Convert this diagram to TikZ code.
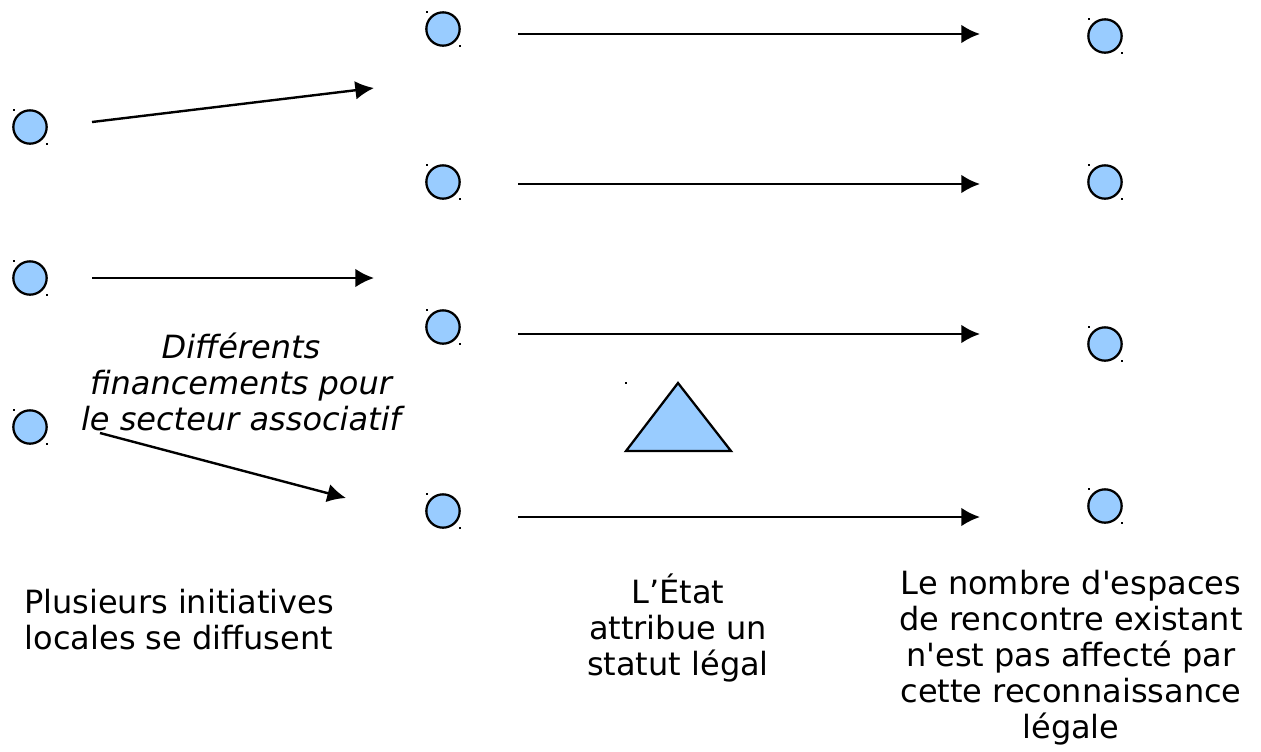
\documentclass[tikz,border=0pt]{standalone}
\usepackage{fontspec}
\setmainfont{DejaVu Sans}
\usetikzlibrary{arrows.meta}
\definecolor{fillblue}{HTML}{99CCFF}
\tikzset{
  dot/.style={circle,draw=black,line width=1.7pt,fill=fillblue,minimum size=25pt,inner sep=0pt},
  handle/.style={fill=black,minimum size=2pt,inner sep=0pt,rectangle},
  arr/.style={line width=1.8pt,-{Latex[length=14pt,width=14pt]}},
  lbl/.style={align=center,font=\fontsize{24}{27}\selectfont,inner sep=0pt}
}
\begin{document}
\begin{tikzpicture}[x=0.75pt,y=-0.75pt]
\useasboundingbox (0,0) rectangle (1261,751);
% circles
\foreach \n/\x/\y in {a1/30/127,a2/30/278,a3/30/427,
  b1/443/29,b2/443/182,b3/443/327,b4/443/511,
  c1/1105/36,c2/1105/182,c3/1105/344,c4/1105/506}{
  \node[dot] (\n) at (\x,\y) {};
  \node[handle] (\n tl) at (\x-16,\y-17) {};
  \node[handle] (\n br) at (\x+17,\y+17) {};
}
% triangle
\draw[line width=1.7pt,fill=fillblue,line join=miter] (678,383) -- (731,451) -- (626,451) -- cycle;
\node[handle] (tri) at (626,383) {};
% arrow endpoints
\coordinate (l1s) at (92,122); \coordinate (l1e) at (374,88);
\coordinate (l2s) at (92,278); \coordinate (l2e) at (374,278);
\coordinate (l3s) at (100,433); \coordinate (l3e) at (346,498);
\foreach \i/\y in {1/34,2/184,3/334,4/517}{
  \coordinate (h\i s) at (518,\y); \coordinate (h\i e) at (980,\y);
  \draw[arr] (h\i s) -- (h\i e);
}
\draw[arr] (l1s) -- (l1e);
\draw[arr] (l2s) -- (l2e);
\draw[arr] (l3s) -- (l3e);
% texts
\node[lbl,font=\fontsize{24}{27}\selectfont\itshape] (fin) at (241,382) {Différents\\financements pour\\le secteur associatif};
\node[lbl] (t1) at (179,620) {Plusieurs initiatives\\locales se diffusent};
\node[lbl] (t2) at (678,628) {L’État\\attribue un\\statut légal};
\node[lbl] (t3) at (1071,658) {Le nombre d\textquotesingle espaces\\de rencontre existant\\n\textquotesingle est pas affecté par\\cette reconnaissance\\légale};
\end{tikzpicture}
\end{document}
